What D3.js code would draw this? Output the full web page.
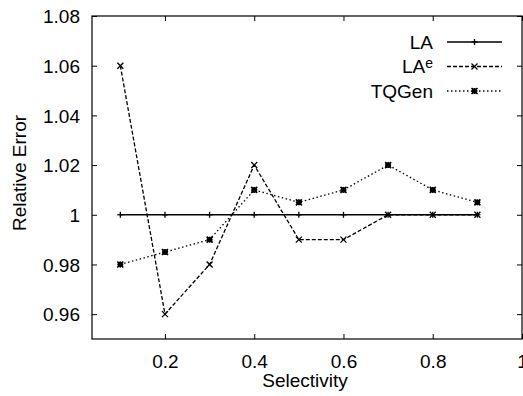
<!DOCTYPE html>
<html>
<head>
<meta charset="utf-8">
<script src="https://cdn.jsdelivr.net/npm/d3@7"></script>
<style>
  body { margin: 0; background: #fff; }
  svg { display: block; font-family: "Liberation Sans", Arial, sans-serif; }
  .tick text { font-size: 19px; fill: #000; }
</style>
</head>
<body>
<svg id="chart" width="523" height="396"></svg>
<script>
// selectivity values (x) and relative error series
const selectivity = [0.1, 0.2, 0.3, 0.4, 0.5, 0.6, 0.7, 0.8, 0.9];
const la = [1, 1, 1, 1, 1, 1, 1, 1, 1];
const lae = [1.06, 0.96, 0.98, 1.02, 0.99, 0.99, 1.0, 1.0, 1.0];
const tqgen = [0.98, 0.985, 0.99, 1.01, 1.005, 1.01, 1.02, 1.01, 1.005];
const xTicks = [0.2, 0.4, 0.6, 0.8, 1];
const yTicks = [0.96, 0.98, 1, 1.02, 1.04, 1.06, 1.08];

const series = [
  { name: "LA", sup: null, values: la, dash: null, marker: "plus" },
  { name: "LA", sup: "e", values: lae, dash: "4,2", marker: "cross" },
  { name: "TQGen", sup: null, values: tqgen, dash: "1.5,2.5", marker: "star" },
];

const svg = d3.select("#chart");
const m = { left: 92, right: 522, top: 16, bottom: 339 };

const x = d3.scaleLinear().domain([0.0365, 1]).range([m.left, m.right]);
const y = d3.scaleLinear().domain([0.95, 1.08]).range([m.bottom, m.top]);

// axes (gnuplot style: inward ticks, mirrored)
const tk = 5;
const gx = svg.append("g").attr("transform", `translate(0,${m.bottom})`)
  .call(d3.axisBottom(x).tickValues(xTicks).tickSize(-tk).tickPadding(16)
    .tickFormat(d3.format("")));
gx.select(".domain").remove();

svg.append("g").attr("transform", `translate(0,${m.top})`)
  .call(d3.axisTop(x).tickValues(xTicks).tickSize(-tk).tickFormat(""))
  .select(".domain").remove();

const gy = svg.append("g").attr("transform", `translate(${m.left},0)`)
  .call(d3.axisLeft(y).tickValues(yTicks).tickSize(-tk).tickPadding(12)
    .tickFormat(d3.format("")));
gy.select(".domain").remove();
gy.selectAll("text").attr("dy", "0.36em");

svg.append("g").attr("transform", `translate(${m.right},0)`)
  .call(d3.axisRight(y).tickValues(yTicks).tickSize(-tk).tickFormat(""))
  .select(".domain").remove();

svg.selectAll(".tick line").attr("stroke", "#000");

svg.append("rect")
  .attr("x", m.left).attr("y", m.top)
  .attr("width", m.right - m.left).attr("height", m.bottom - m.top)
  .attr("fill", "none").attr("stroke", "#000").attr("stroke-width", 1.2);

// axis titles
svg.append("text")
  .attr("x", 305).attr("y", 387)
  .attr("text-anchor", "middle").attr("font-size", 19)
  .text("Selectivity");
svg.append("text")
  .attr("transform", `translate(26,173) rotate(-90)`)
  .attr("text-anchor", "middle").attr("font-size", 19)
  .text("Relative Error");

function marker(g, type, cx, cy) {
  const s = 3;
  const p = [];
  if (type === "plus" || type === "star") {
    p.push([cx - s, cy, cx + s, cy], [cx, cy - s, cx, cy + s]);
  }
  if (type === "cross" || type === "star") {
    p.push([cx - s, cy - s, cx + s, cy + s], [cx - s, cy + s, cx + s, cy - s]);
  }
  p.forEach((l) => g.append("line")
    .attr("x1", l[0]).attr("y1", l[1]).attr("x2", l[2]).attr("y2", l[3])
    .attr("stroke", "#000").attr("stroke-width", type === "star" ? 1.6 : 1.3));
  if (type === "star") {
    g.append("rect").attr("x", cx - 2.5).attr("y", cy - 2.5)
      .attr("width", 5).attr("height", 5).attr("fill", "#000");
  }
}

const line = d3.line().x((d, i) => x(selectivity[i])).y((d) => y(d));

series.forEach((s, k) => {
  const g = svg.append("g");
  g.append("path").datum(s.values)
    .attr("d", line)
    .attr("fill", "none").attr("stroke", "#000")
    .attr("stroke-width", k === 0 ? 1.6 : 1.3)
    .attr("stroke-dasharray", s.dash);
  s.values.forEach((v, i) => marker(g, s.marker, x(selectivity[i]), y(v)));

  // legend
  const ly = 42 + k * 24.5;
  const t = svg.append("text").attr("x", 433).attr("y", ly)
    .attr("dy", "0.36em").attr("text-anchor", "end").attr("font-size", 19);
  t.append("tspan").text(s.name);
  if (s.sup) t.append("tspan").attr("dy", "-0.4em").attr("font-size", 14).text(s.sup);
  g.append("line").attr("x1", 447).attr("x2", 502).attr("y1", ly).attr("y2", ly)
    .attr("stroke", "#000").attr("stroke-width", k === 0 ? 1.6 : 1.3)
    .attr("stroke-dasharray", s.dash);
  marker(g, s.marker, 474.5, ly);
});
</script>
</body>
</html>
